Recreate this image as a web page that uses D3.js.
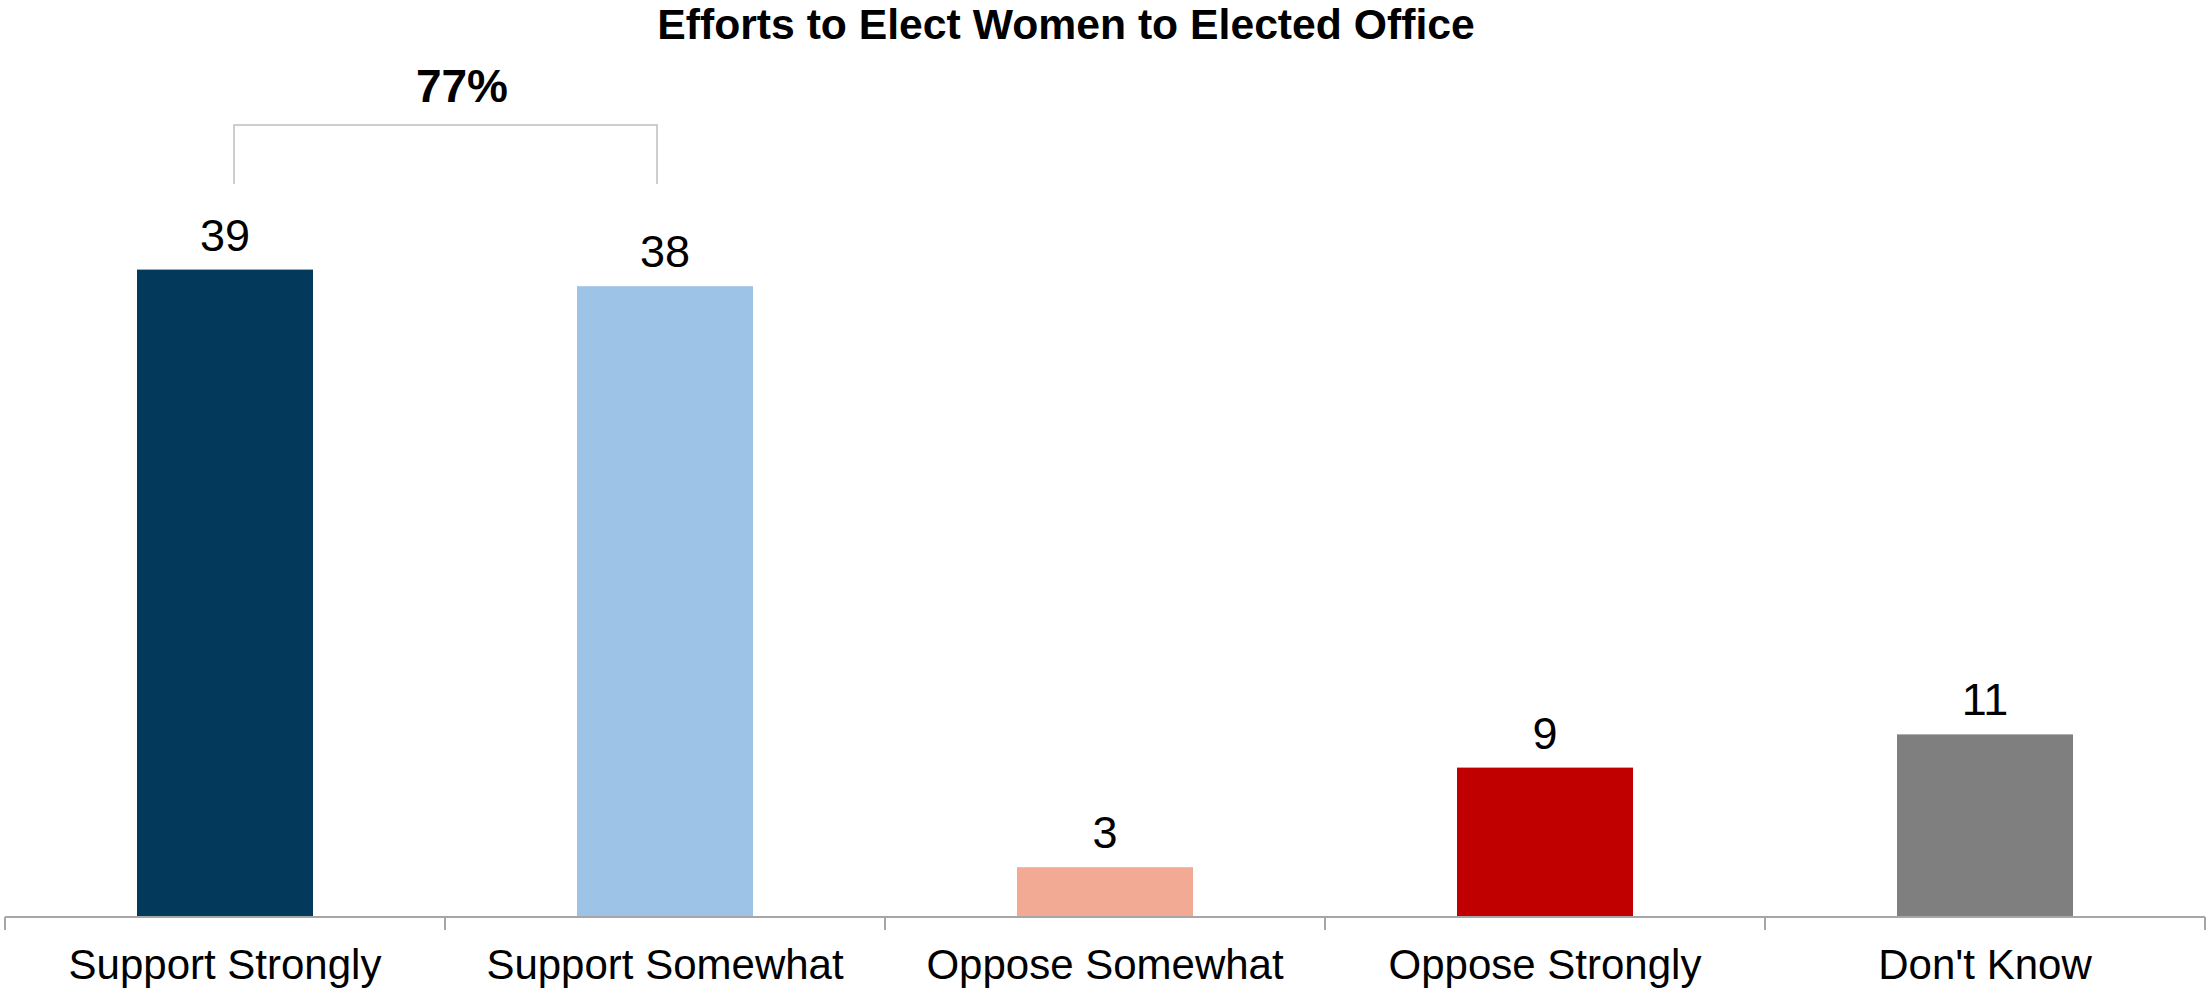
<!DOCTYPE html>
<html>
<head>
<meta charset="utf-8">
<script src="https://cdn.jsdelivr.net/npm/d3@7"></script>
<style>
  html, body { margin: 0; padding: 0; background: #ffffff; }
  svg { display: block; font-family: "Liberation Sans", Arial, sans-serif; }
</style>
</head>
<body>
<svg id="chart" width="2208" height="992"></svg>
<script>
const categories = ["Support Strongly", "Support Somewhat", "Oppose Somewhat", "Oppose Strongly", "Don't Know"];
const values = [39, 38, 3, 9, 11];
const barColors = ["#033a5b", "#9dc3e6", "#f3aa95", "#c00000", "#7f7f7f"];
const titleText = "Efforts to Elect Women to Elected Office";
const bracketLabel = "77%";
const bracketGroup = ["Support Strongly", "Support Somewhat"];

const W = 2208, H = 992;
const baseY = 917;

const svg = d3.select("#chart");

const x = d3.scaleBand()
  .domain(categories)
  .range([5, 2205])
  .paddingInner(0.6)
  .paddingOuter(0.3);

const y = d3.scaleLinear()
  .domain([0, 45])
  .range([baseY, baseY - 45 * 16.6]);

function label(g, tx, ty, txt, size, weight) {
  return g.append("text")
    .attr("x", tx)
    .attr("y", ty)
    .attr("text-anchor", "middle")
    .attr("font-size", size)
    .attr("font-weight", weight)
    .attr("fill", "#000")
    .text(txt);
}

// Bars
svg.append("g").selectAll("rect")
  .data(values)
  .join("rect")
  .attr("x", (d, i) => x(categories[i]))
  .attr("y", d => y(d))
  .attr("width", x.bandwidth())
  .attr("height", d => y(0) - y(d))
  .attr("fill", (d, i) => barColors[i]);

// Value labels
const lab = svg.append("g");
values.forEach((v, i) => {
  label(lab, x(categories[i]) + x.bandwidth() / 2, y(v) - 19, String(v), 45, "normal");
});

// Axis
const axisG = svg.append("g").attr("transform", `translate(0,${baseY})`);
const axis = d3.axisBottom(x).tickSize(0).tickFormat("");
axisG.call(axis);
axisG.select(".domain").attr("stroke", "#a6a6a6").attr("stroke-width", 2)
  .attr("d", `M${x.range()[0]},0H${x.range()[1]}`);
const step = x.step();
const offset = (step - x.bandwidth()) / 2;
const boundaries = categories.map(c => x(c) - offset).concat([x(categories[categories.length - 1]) - offset + step]);
axisG.selectAll("line.sep")
  .data(boundaries)
  .join("line")
  .attr("class", "sep")
  .attr("x1", d => d).attr("x2", d => d)
  .attr("y1", 0).attr("y2", 13)
  .attr("stroke", "#a6a6a6").attr("stroke-width", 2);

// Category labels
const catG = svg.append("g");
categories.forEach(c => {
  label(catG, x(c) + x.bandwidth() / 2, 979, c, 42, "normal");
});

// Title
label(svg, 1066, 39, titleText, 42.7, "bold");

// Bracket
const bx0 = x(bracketGroup[0]) + x.bandwidth() / 2 + 9;
const bx1 = x(bracketGroup[1]) + x.bandwidth() / 2 - 8;
svg.append("path")
  .attr("d", `M${bx0},184V125H${bx1}V184`)
  .attr("fill", "none")
  .attr("stroke", "#bfbfbf")
  .attr("stroke-width", 1.5);
label(svg, 462, 102, bracketLabel, 46, "bold");
</script>
</body>
</html>
